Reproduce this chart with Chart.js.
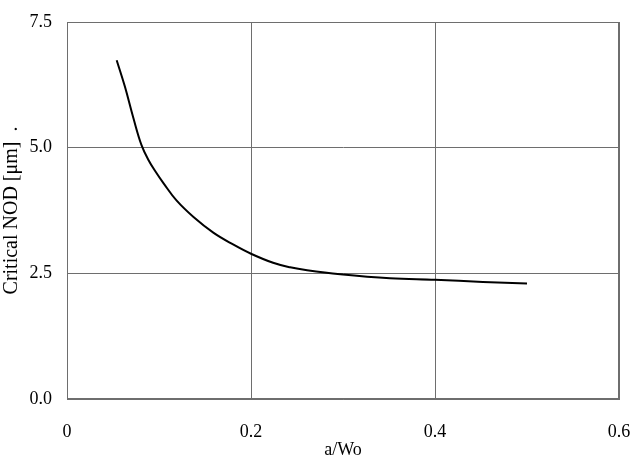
<!DOCTYPE html>
<html>
<head>
<meta charset="utf-8">
<script src="https://cdn.jsdelivr.net/npm/chart.js@4"></script>
<style>
  html, body { margin: 0; padding: 0; background: #fff; }
  #wrap { width: 642px; height: 456px; }
</style>
</head>
<body>
<div id="wrap"><canvas id="grafica" width="642" height="456"></canvas></div>
<script>
// valores
const a_wo = [0.054, 0.063, 0.072, 0.081, 0.089, 0.096, 0.105, 0.119, 0.1375, 0.159, 0.181, 0.200, 0.224, 0.2425, 0.261, 0.297, 0.351, 0.400, 0.452, 0.500]
const nod_critico = [6.74, 6.21, 5.60, 5.05, 4.74, 4.53, 4.29, 3.95, 3.62, 3.31, 3.07, 2.89, 2.71, 2.62, 2.56, 2.48, 2.40, 2.37, 2.33, 2.30]
const ticks_x = [0, 0.2, 0.4, 0.6]
const ticks_y = [0, 2.5, 5, 7.5]

const fuente = "'Liberation Serif', 'Times New Roman', serif"
const gris = '#6e6e6e'

const puntos = a_wo.map((x, i) => ({ x: x, y: nod_critico[i] }))

new Chart(document.querySelector('#grafica'), {
    type: 'scatter',
    data: {
        datasets: [{
            data: puntos,
            showLine: true,
            borderColor: '#000',
            borderWidth: 2,
            pointRadius: 0,
            tension: 0.4
        }]
    },
    options: {
        responsive: false,
        animation: false,
        layout: { padding: { top: 22, right: 23, bottom: 0, left: 0 } },
        plugins: { legend: { display: false }, tooltip: { enabled: false } },
        scales: {
            x: {
                type: 'linear',
                min: 0, max: 0.6,
                afterBuildTicks: (s) => { s.ticks = ticks_x.map(v => ({ value: v })) },
                afterFit: (s) => {
                    s.height = 57
                    s.paddingLeft = 0
                    s.paddingRight = 0
                },
                grid: { color: gris, drawTicks: false },
                border: { color: gris },
                ticks: {
                    color: '#000',
                    padding: 22,
                    font: { family: fuente, size: 18 },
                    callback: (v) => v === 0 ? '0' : v.toFixed(1)
                },
                title: {
                    display: true,
                    text: 'a/Wo',
                    color: '#000',
                    padding: 0,
                    font: { family: fuente, size: 18, lineHeight: 0.6 }
                }
            },
            y: {
                type: 'linear',
                min: 0, max: 7.5,
                afterBuildTicks: (s) => { s.ticks = ticks_y.map(v => ({ value: v })) },
                afterFit: (s) => {
                    s.width = 67
                    s.paddingTop = 0
                    s.paddingBottom = 0
                },
                grid: { color: gris, drawTicks: false },
                border: { color: gris },
                ticks: {
                    color: '#000',
                    padding: 15,
                    font: { family: fuente, size: 18 },
                    callback: (v) => v.toFixed(1)
                },
                title: {
                    display: true,
                    text: 'Critical NOD [\u03bcm]  .',
                    color: '#000',
                    padding: { top: 1, bottom: 0 },
                    font: { family: fuente, size: 20, lineHeight: 1.1 }
                }
            }
        }
    },
    plugins: [{
        id: 'fondo_y_marco',
        beforeDraw: (chart) => {
            const ctx = chart.ctx
            ctx.save()
            ctx.fillStyle = '#fff'
            ctx.fillRect(0, 0, chart.width, chart.height)
            ctx.restore()
        },
        afterDatasetsDraw: (chart) => {
            const a = chart.chartArea
            const ctx = chart.ctx
            ctx.save()
            ctx.strokeStyle = gris
            ctx.lineWidth = 1
            ctx.strokeRect(a.left + 0.5, a.top + 0.5, a.right - a.left - 1, a.bottom - a.top - 1)
            ctx.restore()
        }
    }]
})
</script>
</body>
</html>
